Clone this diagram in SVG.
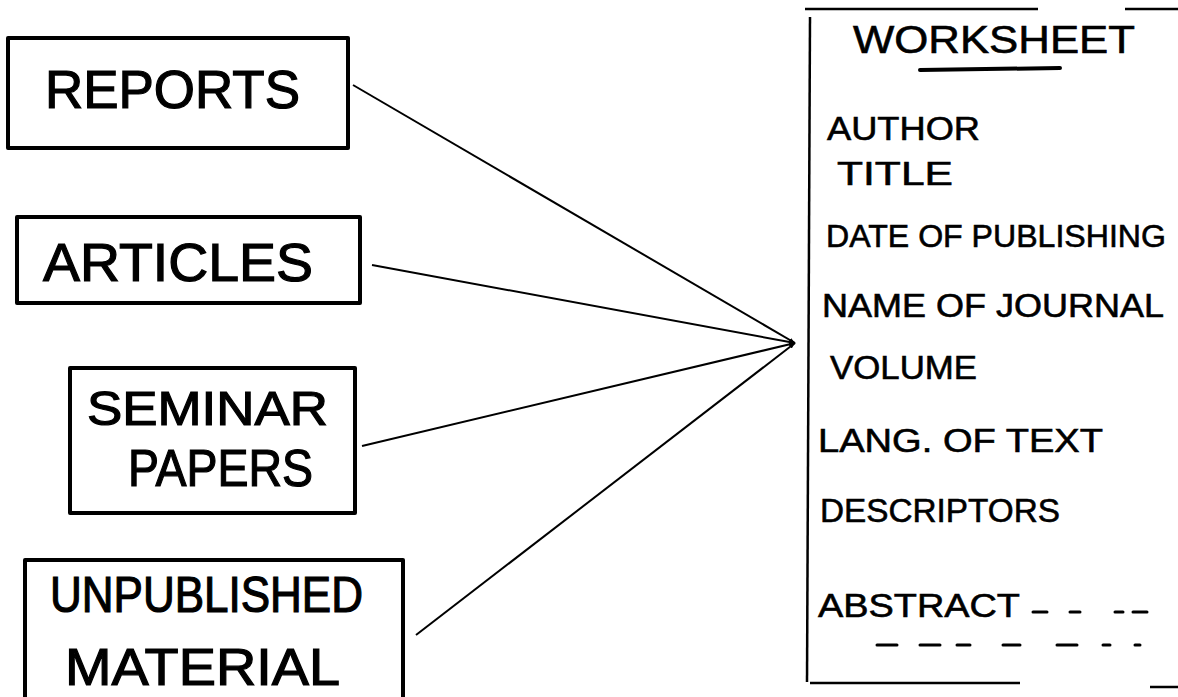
<svg xmlns="http://www.w3.org/2000/svg" width="1178" height="697" viewBox="0 0 1178 697">
<style>
.box{fill:none;stroke:#000;stroke-width:4;stroke-linejoin:round;stroke-linecap:round}
.big{font-family:"Liberation Sans",Arial,sans-serif;fill:#000;stroke:#000;stroke-width:1.2}
.ws{font-family:"Liberation Sans",Arial,sans-serif;fill:#000;stroke:#000;stroke-width:0.6}
.conn{stroke:#000;stroke-width:2;fill:none}
.rule{stroke:#000;stroke-width:2.5;fill:none}
.dash{stroke:#000;stroke-width:3;stroke-linecap:round}
</style>
<defs>
<marker id="arr" viewBox="0 0 10 10" refX="10" refY="5" markerWidth="6" markerHeight="6" orient="auto" markerUnits="userSpaceOnUse">
<path d="M0,1 L10,5 L0,9 Z" fill="#000"/>
</marker>
</defs>
<rect width="1178" height="697" fill="#fff"/>
<g id="reports">
<rect class="box" x="8" y="38" width="340" height="110"/>
<text class="big" x="45" y="108" font-size="54" textLength="255" lengthAdjust="spacingAndGlyphs">REPORTS</text>
</g>
<g id="articles">
<rect class="box" x="17" y="217" width="343" height="86"/>
<text class="big" x="43" y="281" font-size="54" textLength="270" lengthAdjust="spacingAndGlyphs">ARTICLES</text>
</g>
<g id="seminar">
<rect class="box" x="70" y="368" width="285" height="145"/>
<text class="big" x="87" y="425" font-size="48" textLength="241" lengthAdjust="spacingAndGlyphs">SEMINAR</text>
<text class="big" x="128" y="486" font-size="52" textLength="185" lengthAdjust="spacingAndGlyphs">PAPERS</text>
</g>
<g id="unpublished">
<path class="box" d="M25,700 L25,560 L403,560 L403,700"/>
<text class="big" x="50" y="612" font-size="50" textLength="313" lengthAdjust="spacingAndGlyphs">UNPUBLISHED</text>
<text class="big" x="65" y="685" font-size="52" textLength="275" lengthAdjust="spacingAndGlyphs">MATERIAL</text>
</g>
<g id="connectors">
<line class="conn" x1="353" y1="85" x2="795" y2="343" marker-end="url(#arr)"/>
<line class="conn" x1="372" y1="265" x2="795" y2="343" marker-end="url(#arr)"/>
<line class="conn" x1="362" y1="446" x2="795" y2="343" marker-end="url(#arr)"/>
<line class="conn" x1="416" y1="635" x2="795" y2="343" marker-end="url(#arr)"/>
</g>
<g id="worksheet">
<path class="rule" d="M805,9 L1038,9 M1125,9 L1178,9"/>
<path class="rule" d="M810,17 L807,682"/>
<path class="rule" d="M810,683 L1020,683 M1150,687 L1178,687"/>
<text class="ws" x="853" y="53" font-size="38" textLength="282" lengthAdjust="spacingAndGlyphs">WORKSHEET</text>
<line x1="920" y1="70" x2="1060" y2="68" stroke="#000" stroke-width="4" stroke-linecap="round"/>
<text class="ws" x="827" y="140" font-size="34" textLength="153" lengthAdjust="spacingAndGlyphs">AUTHOR</text>
<text class="ws" x="837" y="185" font-size="34" textLength="116" lengthAdjust="spacingAndGlyphs">TITLE</text>
<text class="ws" x="826" y="247" font-size="32" textLength="340" lengthAdjust="spacingAndGlyphs">DATE OF PUBLISHING</text>
<text class="ws" x="822" y="317" font-size="33" textLength="342" lengthAdjust="spacingAndGlyphs">NAME OF JOURNAL</text>
<text class="ws" x="830" y="379" font-size="34" textLength="147" lengthAdjust="spacingAndGlyphs">VOLUME</text>
<text class="ws" x="818" y="452" font-size="34" textLength="285" lengthAdjust="spacingAndGlyphs">LANG. OF TEXT</text>
<text class="ws" x="820" y="522" font-size="34" textLength="240" lengthAdjust="spacingAndGlyphs">DESCRIPTORS</text>
<text class="ws" x="818" y="617" font-size="34" textLength="202" lengthAdjust="spacingAndGlyphs">ABSTRACT</text>
<path class="dash" d="M1033,612 L1047,612 M1070,612 L1080,612 M1115,612 L1123,612 M1133,612 L1147,612"/>
<path class="dash" d="M877,645 L897,645 M920,645 L940,645 M957,645 L970,645 M1003,645 L1020,645 M1057,645 L1077,645 M1103,645 L1110,645 M1135,645 L1140,645"/>
</g>
</svg>
